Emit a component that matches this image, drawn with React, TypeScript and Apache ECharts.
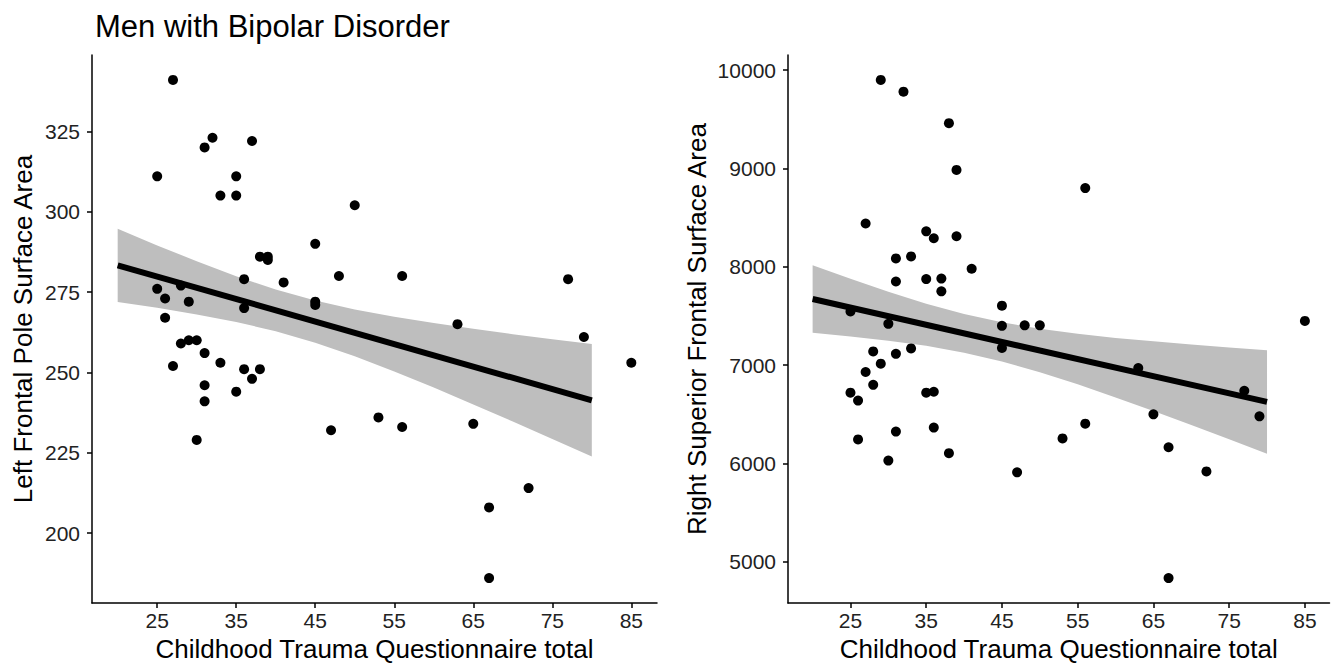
import React, { useEffect, useRef } from "react";
import * as echarts from "echarts";

// ---- Data ----
const poleX = [27, 32, 31, 37, 25, 35, 33, 35, 50, 45, 38, 39, 39, 48, 41, 36, 25, 28, 26, 29, 36, 45, 45, 26, 28, 29, 30, 31, 27, 33, 36, 38, 37, 31, 35, 31, 30, 47, 53, 56, 77, 63, 79, 85, 56, 65, 72, 67, 67];
const poleY = [341, 323, 320, 322, 311, 311, 305, 305, 302, 290, 286, 286, 285, 280, 278, 279, 276, 277, 273, 272, 270, 272, 271, 267, 259, 260, 260, 256, 252, 253, 251, 251, 248, 246, 244, 241, 229, 232, 236, 280, 279, 265, 261, 253, 233, 234, 214, 208, 186];

const supX = [29, 32, 38, 39, 27, 35, 36, 39, 31, 33, 41, 31, 35, 37, 37, 45, 25, 30, 45, 48, 50, 45, 28, 31, 33, 29, 27, 28, 25, 26, 35, 36, 36, 31, 26, 38, 30, 47, 53, 85, 63, 77, 79, 65, 56, 67, 72, 67, 56];
const supY = [9900, 9780, 9460, 8985, 8440, 8360, 8290, 8310, 8085, 8105, 7980, 7850, 7875, 7880, 7750, 7605, 7545, 7420, 7400, 7405, 7405, 7175, 7140, 7115, 7170, 7015, 6930, 6800, 6720, 6640, 6720, 6730, 6365, 6325, 6245, 6105, 6030, 5910, 6255, 7450, 6970, 6740, 6480, 6500, 6405, 6165, 5920, 4835, 8800];

// fitted line end points and confidence band
const fitX = [20, 80];
const poleFit = [283.3, 241.3];
const supFit = [7672, 6626];

const bandX = [20, 25, 30, 35, 40, 45, 50, 55, 60, 65, 70, 75, 80];
const poleUpper = [294.7, 289.5, 284.6, 279.9, 275.8, 272.4, 269.6, 267.3, 265.4, 263.6, 261.9, 260.3, 258.8];
const poleLower = [271.9, 270.1, 268.0, 265.7, 262.8, 259.2, 255.0, 250.3, 245.3, 240.0, 234.7, 229.3, 223.8];
const supUpper = [8016, 7878, 7746, 7625, 7520, 7435, 7370, 7319, 7277, 7242, 7210, 7180, 7152];
const supLower = [7329, 7292, 7249, 7196, 7127, 7038, 6929, 6805, 6672, 6534, 6391, 6247, 6100];

const xTicks = [25, 35, 45, 55, 65, 75, 85];
const poleTicks = [200, 225, 250, 275, 300, 325];
const supTicks = [5000, 6000, 7000, 8000, 9000, 10000];

const TITLE = "Men with Bipolar Disorder";
const X_NAME = "Childhood Trauma Questionnaire total";
const Y_NAME_L = "Left Frontal Pole Surface Area";
const Y_NAME_R = "Right Superior Frontal Surface Area";

const FONT = "'Liberation Sans', Arial, Helvetica, sans-serif";

function xAxisCfg(gridIndex: number) {
  return {
    type: "value",
    gridIndex,
    min: 16.75,
    max: 88.25,
    splitLine: { show: false },
    axisLine: { show: true, onZero: false, lineStyle: { color: "#000", width: 1.5 } },
    axisTick: { show: true, customValues: xTicks, length: 5, lineStyle: { color: "#000", width: 1.5 } },
    axisLabel: {
      customValues: xTicks,
      fontSize: 21,
      color: "#222",
      margin: 7,
      fontFamily: FONT,
      formatter: (v: number) => String(v),
    },
    name: X_NAME,
    nameLocation: "middle",
    nameGap: 33,
    nameTextStyle: { fontSize: 26, color: "#000", fontFamily: FONT },
  };
}

function yAxisCfg(gridIndex: number, min: number, max: number, ticks: number[], name: string, gap: number) {
  return {
    type: "value",
    gridIndex,
    min,
    max,
    splitLine: { show: false },
    axisLine: { show: true, onZero: false, lineStyle: { color: "#000", width: 1.5 } },
    axisTick: { show: true, customValues: ticks, length: 5, lineStyle: { color: "#000", width: 1.5 } },
    axisLabel: {
      customValues: ticks,
      fontSize: 21,
      color: "#222",
      margin: 12,
      fontFamily: FONT,
      formatter: (v: number) => String(v),
    },
    name,
    nameLocation: "middle",
    nameGap: gap,
    nameTextStyle: { fontSize: 26, color: "#000", fontFamily: FONT },
  };
}

function bandSeries(idx: number, upper: number[], lower: number[]) {
  return {
    type: "custom",
    xAxisIndex: idx,
    yAxisIndex: idx,
    silent: true,
    z: 1,
    data: [[bandX[0], upper[0]]],
    renderItem: (_params: any, api: any) => {
      const pts: number[][] = [];
      for (let i = 0; i < bandX.length; i++) pts.push(api.coord([bandX[i], upper[i]]));
      for (let i = bandX.length - 1; i >= 0; i--) pts.push(api.coord([bandX[i], lower[i]]));
      return { type: "polygon", shape: { points: pts }, style: { fill: "#bebebe" } };
    },
  };
}

function scatterSeries(idx: number, xs: number[], ys: number[]) {
  return {
    type: "scatter",
    xAxisIndex: idx,
    yAxisIndex: idx,
    symbol: "circle",
    symbolSize: 10,
    itemStyle: { color: "#000", opacity: 1 },
    z: 3,
    data: xs.map((x, i) => [x, ys[i]]),
  };
}

function fitSeries(idx: number, ys: number[]) {
  return {
    type: "line",
    xAxisIndex: idx,
    yAxisIndex: idx,
    showSymbol: false,
    symbol: "none",
    lineStyle: { color: "#000", width: 6 },
    z: 4,
    data: fitX.map((x, i) => [x, ys[i]]),
  };
}

export default function App() {
  const ref = useRef<HTMLDivElement>(null);
  useEffect(() => {
    if (!ref.current) return;
    const chart = echarts.init(ref.current, null, { renderer: "svg" });
    chart.setOption({
      animation: false,
      backgroundColor: "#fff",
      textStyle: { fontFamily: FONT },
      title: {
        text: TITLE,
        left: 90,
        top: 6,
        textStyle: { fontSize: 31, fontWeight: "normal", color: "#000", fontFamily: FONT },
      },
      grid: [
        { left: 92, top: 55, width: 565, height: 548 },
        { left: 788, top: 55, width: 541.5, height: 548 },
      ],
      xAxis: [xAxisCfg(0), xAxisCfg(1)],
      yAxis: [
        yAxisCfg(0, 178.25, 348.75, poleTicks, Y_NAME_L, 56),
        yAxisCfg(1, 4582, 10153, supTicks, Y_NAME_R, 78),
      ],
      series: [
        bandSeries(0, poleUpper, poleLower),
        scatterSeries(0, poleX, poleY),
        fitSeries(0, poleFit),
        bandSeries(1, supUpper, supLower),
        scatterSeries(1, supX, supY),
        fitSeries(1, supFit),
      ],
    });
    return () => chart.dispose();
  }, []);
  return (
    <div
      ref={ref}
      style={{ position: "fixed", left: 0, top: 0, width: 1340, height: 669, background: "#fff" }}
    />
  );
}
